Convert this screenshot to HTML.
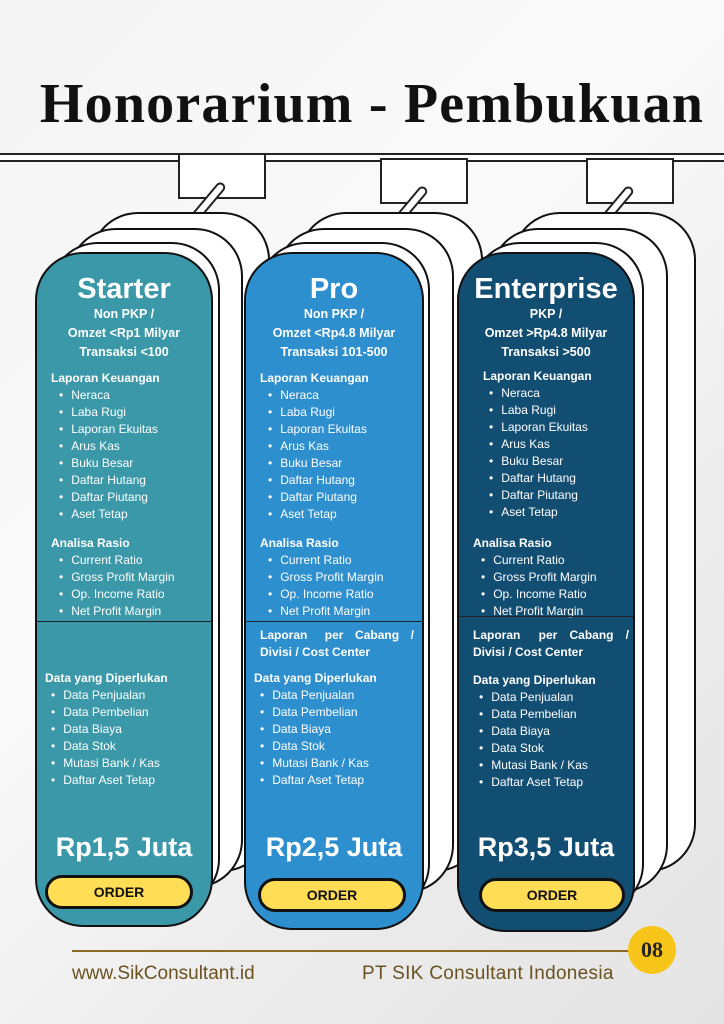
<!DOCTYPE html>
<html><head><meta charset="utf-8"><style>
*{margin:0;padding:0;box-sizing:border-box}
body{width:724px;height:1024px;position:relative;overflow:hidden;font-family:"Liberation Sans",sans-serif;background:linear-gradient(135deg,#f4f4f4 0%,#fafafa 40%,#ececec 70%,#e4e4e4 100%)}
.a{position:absolute}
.title{left:10px;width:724px;top:72px;text-align:center;font-family:"Liberation Serif",serif;font-weight:bold;font-size:56px;color:#111;letter-spacing:1.2px}
.rail{left:0;width:724px;height:9px;top:154px;border-top:2px solid #222;border-bottom:2px solid #222;background:#fff}
.hook{width:88px;height:46px;border:2px solid #222;background:#fff}
.stick{width:10px;height:48px;background:#fff;border:2px solid #222;border-radius:5px;transform:rotate(40deg)}
.back{background:#fff;border:2.5px solid #111;border-radius:48px}
.card{border:2.5px solid #111;border-radius:48px;color:#fff;overflow:hidden}
.card h2{text-align:center;font-size:29px;font-weight:bold;margin-top:19px;line-height:32px}
.sub{text-align:center;font-weight:bold;font-size:12.5px;line-height:19px}
.sec{font-weight:bold;font-size:12px;margin:8px 0 0 14px;line-height:17px}
ul{list-style:none;margin-left:20px}
li{font-size:12px;line-height:17px}
li:before{content:"•";margin-right:8px}
.price{text-align:center;font-weight:bold;font-size:27px;position:absolute;left:0;right:0}
.btn{position:absolute;height:34px;background:#ffdd55;border:3px solid #111;border-radius:17px;color:#111;font-weight:bold;font-size:14px;text-align:center;line-height:28px}
.div{position:absolute;left:0;right:0;height:1px;background:#222}
</style></head><body>
<div class="a title">Honorarium - Pembukuan</div>
<div class="a rail" style="top:153px"></div>
<div class="a hook" style="left:178px;top:153px"></div>
<div class="a hook" style="left:380px;top:158px"></div>
<div class="a hook" style="left:586px;top:158px"></div>
<div class="a stick" style="left:203px;top:178px"></div>
<div class="a stick" style="left:405px;top:182px"></div>
<div class="a stick" style="left:611px;top:182px"></div>

<div class="a back" style="left:90px;top:212px;width:180px;height:660px"></div>
<div class="a back" style="left:68px;top:228px;width:175px;height:660px"></div>
<div class="a back" style="left:50px;top:242px;width:170px;height:665px"></div>
<div class="a back" style="left:298px;top:212px;width:185px;height:660px"></div>
<div class="a back" style="left:276px;top:228px;width:178px;height:665px"></div>
<div class="a back" style="left:258px;top:242px;width:172px;height:670px"></div>
<div class="a back" style="left:512px;top:212px;width:184px;height:660px"></div>
<div class="a back" style="left:490px;top:228px;width:178px;height:665px"></div>
<div class="a back" style="left:472px;top:242px;width:172px;height:670px"></div>

<div class="a card" style="left:35px;top:252px;width:178px;height:675px;background:#3a98a8">
<h2>Starter</h2>
<div class="sub">Non PKP /<br>Omzet &lt;Rp1 Milyar<br>Transaksi &lt;100</div>
<div class="sec" style="margin-top:8px">Laporan Keuangan</div>
<ul style="margin-left:22px"><li>Neraca</li><li>Laba Rugi</li><li>Laporan Ekuitas</li><li>Arus Kas</li><li>Buku Besar</li><li>Daftar Hutang</li><li>Daftar Piutang</li><li>Aset Tetap</li></ul>
<div class="sec" style="margin-top:12px">Analisa Rasio</div>
<ul style="margin-left:22px"><li>Current Ratio</li><li>Gross Profit Margin</li><li>Op. Income Ratio</li><li>Net Profit Margin</li></ul>
<div class="div" style="top:367px"></div>
<div class="a" style="top:416px;left:0;right:0"><div class="sec" style="margin:0 0 0 8px">Data yang Diperlukan</div>
<ul style="margin-left:14px"><li>Data Penjualan</li><li>Data Pembelian</li><li>Data Biaya</li><li>Data Stok</li><li>Mutasi Bank / Kas</li><li>Daftar Aset Tetap</li></ul></div>
<div class="price" style="top:578px">Rp1,5 Juta</div>
<div class="btn" style="left:8px;width:148px;top:621px">ORDER</div>
</div>

<div class="a card" style="left:244px;top:252px;width:180px;height:678px;background:#2e8fcf">
<h2>Pro</h2>
<div class="sub">Non PKP /<br>Omzet &lt;Rp4.8 Milyar<br>Transaksi 101-500</div>
<div class="sec" style="margin-top:8px">Laporan Keuangan</div>
<ul style="margin-left:22px"><li>Neraca</li><li>Laba Rugi</li><li>Laporan Ekuitas</li><li>Arus Kas</li><li>Buku Besar</li><li>Daftar Hutang</li><li>Daftar Piutang</li><li>Aset Tetap</li></ul>
<div class="sec" style="margin-top:12px">Analisa Rasio</div>
<ul style="margin-left:22px"><li>Current Ratio</li><li>Gross Profit Margin</li><li>Op. Income Ratio</li><li>Net Profit Margin</li></ul>
<div class="div" style="top:367px"></div>
<div class="a" style="top:373px;left:14px;right:8px;font-weight:bold;font-size:12px;line-height:17px;text-align:justify;text-align-last:left">Laporan&nbsp;&nbsp;&nbsp;per&nbsp;&nbsp;Cabang&nbsp;&nbsp;/ Divisi / Cost Center</div>
<div class="a" style="top:416px;left:0;right:0"><div class="sec" style="margin:0 0 0 8px">Data yang Diperlukan</div>
<ul style="margin-left:14px"><li>Data Penjualan</li><li>Data Pembelian</li><li>Data Biaya</li><li>Data Stok</li><li>Mutasi Bank / Kas</li><li>Daftar Aset Tetap</li></ul></div>
<div class="price" style="top:578px">Rp2,5 Juta</div>
<div class="btn" style="left:12px;width:148px;top:624px">ORDER</div>
</div>

<div class="a card" style="left:457px;top:252px;width:178px;height:680px;background:#124d72">
<h2>Enterprise</h2>
<div class="sub">PKP /<br>Omzet &gt;Rp4.8 Milyar<br>Transaksi &gt;500</div>
<div class="sec" style="margin-top:6px;margin-left:24px">Laporan Keuangan</div>
<ul style="margin-left:30px"><li>Neraca</li><li>Laba Rugi</li><li>Laporan Ekuitas</li><li>Arus Kas</li><li>Buku Besar</li><li>Daftar Hutang</li><li>Daftar Piutang</li><li>Aset Tetap</li></ul>
<div class="sec" style="margin-top:14px">Analisa Rasio</div>
<ul style="margin-left:22px"><li>Current Ratio</li><li>Gross Profit Margin</li><li>Op. Income Ratio</li><li>Net Profit Margin</li></ul>
<div class="div" style="top:362px;right:-10px"></div>
<div class="a" style="top:373px;left:14px;right:4px;font-weight:bold;font-size:12px;line-height:17px;text-align:justify;text-align-last:left">Laporan&nbsp;&nbsp;&nbsp;per&nbsp;&nbsp;Cabang&nbsp;&nbsp;/ Divisi / Cost Center</div>
<div class="a" style="top:418px;left:0;right:0"><div class="sec" style="margin:0 0 0 14px">Data yang Diperlukan</div>
<ul style="margin-left:20px"><li>Data Penjualan</li><li>Data Pembelian</li><li>Data Biaya</li><li>Data Stok</li><li>Mutasi Bank / Kas</li><li>Daftar Aset Tetap</li></ul></div>
<div class="price" style="top:578px">Rp3,5 Juta</div>
<div class="btn" style="left:20px;width:146px;top:624px">ORDER</div>
</div>

<div class="a" style="left:72px;top:950px;width:560px;height:2px;background:#8a6a2a"></div>
<div class="a" style="left:628px;top:926px;width:48px;height:48px;border-radius:50%;background:#f7c41a;text-align:center;line-height:48px;font-family:'Liberation Serif',serif;font-weight:bold;font-size:22px;color:#222">08</div>
<div class="a" style="left:72px;top:963px;font-size:19px;color:#6b5220">www.SikConsultant.id</div>
<div class="a" style="left:362px;top:963px;font-size:19px;color:#6b5220;letter-spacing:0.3px">PT SIK Consultant Indonesia</div>
</body></html>
